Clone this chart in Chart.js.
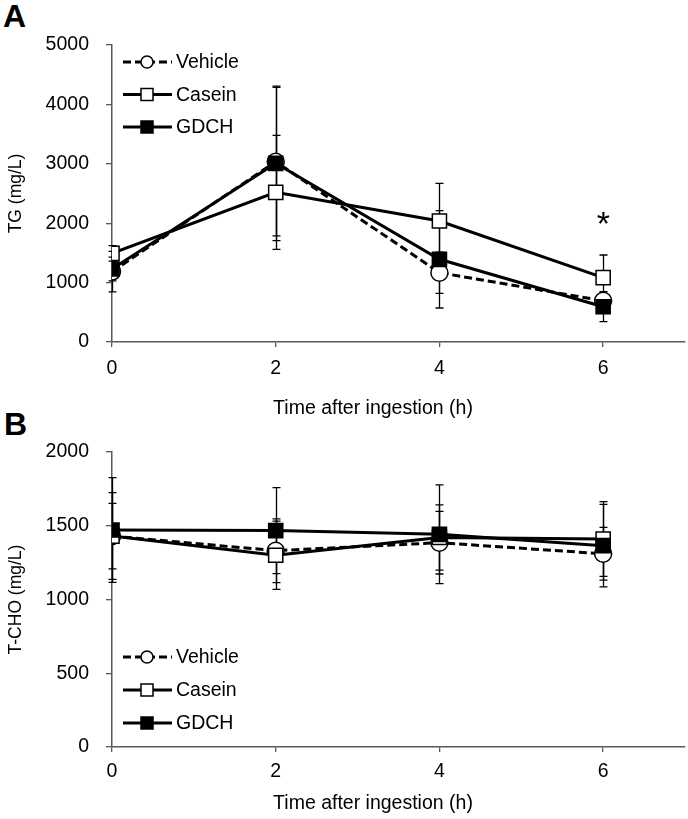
<!DOCTYPE html>
<html>
<head>
<meta charset="utf-8">
<script src="https://cdn.jsdelivr.net/npm/chart.js@4.4.1/dist/chart.umd.min.js"></script>
<style>
  body { margin: 0; background: #fff; width: 688px; height: 819px; position: relative; overflow: hidden; }
  canvas { position: absolute; left: 0; }
  .tag { position: absolute; font: bold 32px "Liberation Sans", Arial, sans-serif; line-height: 32px; color: #000; }
</style>
</head>
<body>
<div class="tag" style="left:3px; top:0px;">A</div>
<div class="tag" style="left:4px; top:408px;">B</div>
<canvas id="tg-chart" width="688" height="430" style="top:0"></canvas>
<canvas id="tcho-chart" width="688" height="389" style="top:430px"></canvas>
<script>
// time points (h) and tick labels
const timePoints = [0, 2, 4, 6];
const xTickValues = [0, 2, 4, 6];
const seriesNames = ["Vehicle", "Casein", "GDCH"];

// panel A: TG (mg/L), mean and SD
const tgVehicle = [1185, 3035, 1167, 695];
const tgCasein = [1493, 2520, 2037, 1083];
const tgGdch = [1229, 3008, 1392, 594];
const tgVehicleSd = [342, 1250, 347, 100];
const tgCaseinSd = [130, 960, 634, 382];
const tgGdchSd = [200, 1300, 820, 252];
const tgTicks = [0, 1000, 2000, 3000, 4000, 5000];

// panel B: T-CHO (mg/L), mean and SD
const tchoVehicle = [1430, 1331, 1385, 1310];
const tchoCasein = [1430, 1300, 1420, 1410];
const tchoGdch = [1471, 1467, 1442, 1365];
const tchoVehicleSd = [294, 216, 212, 179];
const tchoCaseinSd = [222, 231, 221, 253];
const tchoGdchSd = [355, 291, 335, 280];
const tchoTicks = [0, 500, 1000, 1500, 2000];

// significance mark in panel A (x, y in data units)
const tgStar = { x: 6, y: 2090, text: "*" };

Chart.defaults.font.family = "'Liberation Sans', Arial, sans-serif";
Chart.defaults.color = "#000";

const AXIS = "#595959";
const FONT = "'Liberation Sans', Arial, sans-serif";

// look of each series: dashed/open circle, open square, filled square
const seriesLook = [
  { dash: [8, 4], shape: "circle", radius: 8.5, fill: "#fff", order: 3 },
  { dash: [], shape: "rect", radius: 10, fill: "#fff", order: 2 },
  { dash: [], shape: "rect", radius: 10, fill: "#000", order: 1 },
];

// error bars behind everything
const errorBars = {
  id: "errorBars",
  beforeDatasetsDraw(chart) {
    const { ctx, scales: { x, y } } = chart;
    ctx.save();
    ctx.strokeStyle = "#000";
    ctx.lineWidth = 1.3;
    chart.data.datasets.forEach((ds) => {
      ds.data.forEach((p, i) => {
        const e = ds.errorValues[i];
        const px = Math.round(x.getPixelForValue(p.x)) + 0.5;
        const top = y.getPixelForValue(p.y + e);
        const bot = y.getPixelForValue(p.y - e);
        ctx.beginPath();
        ctx.moveTo(px, top);
        ctx.lineTo(px, bot);
        ctx.moveTo(px - 4, top);
        ctx.lineTo(px + 4, top);
        ctx.moveTo(px - 4, bot);
        ctx.lineTo(px + 4, bot);
        ctx.stroke();
      });
    });
    ctx.restore();
  },
};

function drawMarker(ctx, shape, x, y, r, fill) {
  ctx.beginPath();
  if (shape === "circle") {
    ctx.arc(x, y, r, 0, Math.PI * 2);
  } else {
    ctx.rect(x - r, y - r, r * 2, r * 2);
  }
  ctx.fillStyle = fill;
  ctx.fill();
  ctx.lineWidth = 1.5;
  ctx.strokeStyle = "#000";
  ctx.stroke();
}

// legend drawn by hand: line + marker + name
const sketchLegend = {
  id: "sketchLegend",
  afterDatasetsDraw(chart, args, opts) {
    const ctx = chart.ctx;
    ctx.save();
    seriesNames.forEach((name, i) => {
      const look = seriesLook[i];
      const y = opts.top + i * opts.gap;
      ctx.strokeStyle = "#000";
      ctx.lineWidth = 3;
      ctx.setLineDash(look.dash);
      ctx.beginPath();
      ctx.moveTo(123, y);
      ctx.lineTo(172, y);
      ctx.stroke();
      ctx.setLineDash([]);
      drawMarker(ctx, look.shape, 147, y, 6, look.fill);
      ctx.fillStyle = "#000";
      ctx.font = "19.5px " + FONT;
      ctx.textBaseline = "middle";
      ctx.textAlign = "left";
      ctx.fillText(name, 176, y + 1);
    });
    ctx.restore();
  },
};

// x axis title sits left of the plot centre in the reference
const xTitle = {
  id: "xTitle",
  afterDraw(chart, args, opts) {
    const ctx = chart.ctx;
    ctx.save();
    ctx.font = "19.5px " + FONT;
    ctx.fillStyle = "#000";
    ctx.textAlign = "center";
    ctx.textBaseline = "middle";
    ctx.fillText(opts.text, opts.x, opts.y);
    ctx.restore();
  },
};

const starMark = {
  id: "starMark",
  afterDatasetsDraw(chart, args, opts) {
    if (!opts.mark) return;
    const { ctx, scales: { x, y } } = chart;
    ctx.save();
    ctx.font = "34px " + FONT;
    ctx.textAlign = "center";
    ctx.textBaseline = "alphabetic";
    const m = ctx.measureText(opts.mark.text);
    const px = x.getPixelForValue(opts.mark.x) + (m.actualBoundingBoxLeft - m.actualBoundingBoxRight) / 2;
    const py = y.getPixelForValue(opts.mark.y) + (m.actualBoundingBoxAscent - m.actualBoundingBoxDescent) / 2;
    ctx.fillStyle = "#000";
    ctx.fillText(opts.mark.text, px, py);
    ctx.restore();
  },
};

function makePanel(canvasId, cfg) {
  const ctx = document.getElementById(canvasId).getContext("2d");
  const canvasH = ctx.canvas.height;
  const datasets = cfg.series.map((vals, i) => {
    const look = seriesLook[i];
    return {
      label: seriesNames[i],
      data: timePoints.map((t, j) => ({ x: t, y: vals[j] })),
      errorValues: cfg.errors[i],
      borderColor: "#000",
      borderWidth: 3,
      borderDash: look.dash,
      pointStyle: look.shape,
      pointRadius: look.radius,
      pointBackgroundColor: look.fill,
      pointBorderColor: "#000",
      pointBorderWidth: 1.5,
      tension: 0,
      fill: false,
      order: look.order,
    };
  });

  return new Chart(ctx, {
    type: "line",
    data: { datasets },
    options: {
      responsive: false,
      animation: false,
      devicePixelRatio: 1,
      layout: { autoPadding: false, padding: { top: cfg.top, right: 3, left: 0, bottom: 0 } },
      plugins: {
        legend: { display: false },
        tooltip: { enabled: false },
        sketchLegend: { top: cfg.legendTop, gap: cfg.legendGap },
        starMark: { mark: cfg.star },
        xTitle: { text: "Time after ingestion (h)", x: 373, y: cfg.xTitleY },
      },
      scales: {
        x: {
          type: "linear",
          min: 0,
          max: 7,
          afterBuildTicks: (scale) => {
            scale.ticks = xTickValues.map((v) => ({ value: v }));
          },
          afterFit: (scale) => {
            scale.height = canvasH - cfg.bottom;
            scale.paddingLeft = 0;
            scale.paddingRight = 0;
          },
          ticks: { font: { size: 19.5 }, padding: cfg.xTickPad, color: "#000", callback: (v) => String(v) },
          grid: { drawOnChartArea: false, drawTicks: true, tickLength: 5, color: AXIS, lineWidth: 1.3 },
          border: { color: AXIS, width: 1.5 },
          title: { display: false },
        },
        y: {
          min: cfg.yTicks[0],
          max: cfg.yTicks[cfg.yTicks.length - 1],
          afterBuildTicks: (scale) => {
            scale.ticks = cfg.yTicks.map((v) => ({ value: v }));
          },
          afterFit: (scale) => {
            scale.width = 112;
            scale.paddingTop = 0;
            scale.paddingBottom = 0;
          },
          ticks: { font: { size: 19.5 }, padding: 17, color: "#000", callback: (v) => String(v) },
          grid: { drawOnChartArea: false, drawTicks: true, tickLength: 6, color: AXIS, lineWidth: 1.3 },
          border: { color: AXIS, width: 1.5 },
          title: {
            display: true,
            text: cfg.yTitle,
            font: { size: 17.5 },
            color: "#000",
            padding: { top: 6, bottom: 0 },
          },
        },
      },
    },
    plugins: [errorBars, sketchLegend, starMark, xTitle],
  });
}

makePanel("tg-chart", {
  series: [tgVehicle, tgCasein, tgGdch],
  errors: [tgVehicleSd, tgCaseinSd, tgGdchSd],
  yTicks: tgTicks,
  yTitle: "TG (mg/L)",
  top: 45,
  bottom: 342,
  xTickPad: 10,
  xTitleY: 409,
  legendTop: 62,
  legendGap: 32.5,
  star: tgStar,
});

makePanel("tcho-chart", {
  series: [tchoVehicle, tchoCasein, tchoGdch],
  errors: [tchoVehicleSd, tchoCaseinSd, tchoGdchSd],
  yTicks: tchoTicks,
  yTitle: "T-CHO (mg/L)",
  top: 22,
  bottom: 317,
  xTickPad: 8,
  xTitleY: 374,
  legendTop: 227,
  legendGap: 33,
  star: null,
});
</script>
</body>
</html>
